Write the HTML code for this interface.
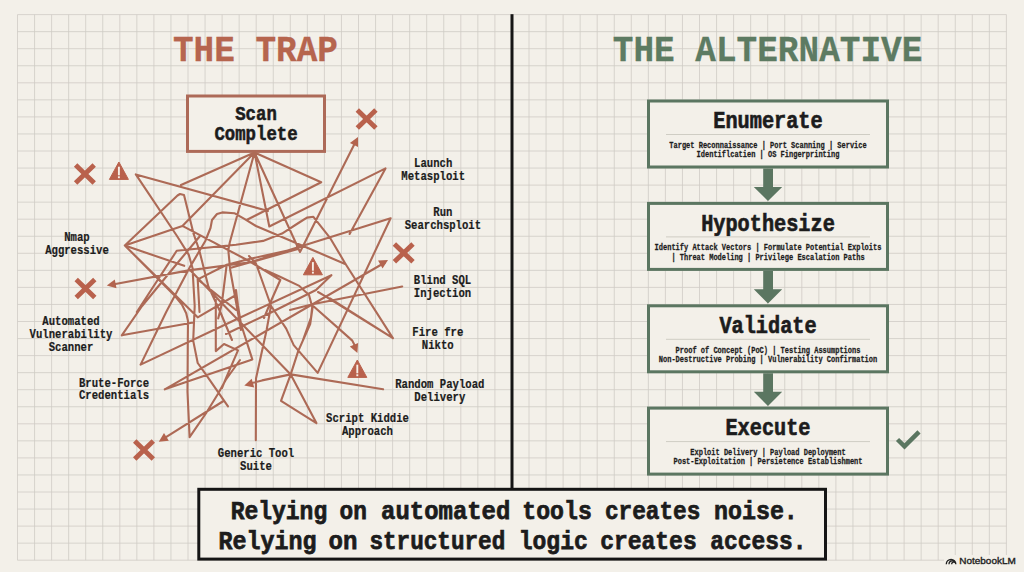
<!DOCTYPE html>
<html><head><meta charset="utf-8"><style>
html,body{margin:0;padding:0;background:#f3f0e9;}
body{width:1024px;height:572px;overflow:hidden;}
svg{display:block;}
</style></head><body>
<svg width="1024" height="572" viewBox="0 0 1024 572">
<rect width="1024" height="572" fill="#f3f0e9"/>
<path d="M17.50 14.60V560.20M34.55 14.60V560.20M51.60 14.60V560.20M68.65 14.60V560.20M85.70 14.60V560.20M102.75 14.60V560.20M119.80 14.60V560.20M136.85 14.60V560.20M153.90 14.60V560.20M170.95 14.60V560.20M188.00 14.60V560.20M205.05 14.60V560.20M222.10 14.60V560.20M239.15 14.60V560.20M256.20 14.60V560.20M273.25 14.60V560.20M290.30 14.60V560.20M307.35 14.60V560.20M324.40 14.60V560.20M341.45 14.60V560.20M358.50 14.60V560.20M375.55 14.60V560.20M392.60 14.60V560.20M409.65 14.60V560.20M426.70 14.60V560.20M443.75 14.60V560.20M460.80 14.60V560.20M477.85 14.60V560.20M494.90 14.60V560.20M511.95 14.60V560.20M529.00 14.60V560.20M546.05 14.60V560.20M563.10 14.60V560.20M580.15 14.60V560.20M597.20 14.60V560.20M614.25 14.60V560.20M631.30 14.60V560.20M648.35 14.60V560.20M665.40 14.60V560.20M682.45 14.60V560.20M699.50 14.60V560.20M716.55 14.60V560.20M733.60 14.60V560.20M750.65 14.60V560.20M767.70 14.60V560.20M784.75 14.60V560.20M801.80 14.60V560.20M818.85 14.60V560.20M835.90 14.60V560.20M852.95 14.60V560.20M870.00 14.60V560.20M887.05 14.60V560.20M904.10 14.60V560.20M921.15 14.60V560.20M938.20 14.60V560.20M955.25 14.60V560.20M972.30 14.60V560.20M989.35 14.60V560.20M1006.40 14.60V560.20M17.50 14.60H1006.40M17.50 31.65H1006.40M17.50 48.70H1006.40M17.50 65.75H1006.40M17.50 82.80H1006.40M17.50 99.85H1006.40M17.50 116.90H1006.40M17.50 133.95H1006.40M17.50 151.00H1006.40M17.50 168.05H1006.40M17.50 185.10H1006.40M17.50 202.15H1006.40M17.50 219.20H1006.40M17.50 236.25H1006.40M17.50 253.30H1006.40M17.50 270.35H1006.40M17.50 287.40H1006.40M17.50 304.45H1006.40M17.50 321.50H1006.40M17.50 338.55H1006.40M17.50 355.60H1006.40M17.50 372.65H1006.40M17.50 389.70H1006.40M17.50 406.75H1006.40M17.50 423.80H1006.40M17.50 440.85H1006.40M17.50 457.90H1006.40M17.50 474.95H1006.40M17.50 492.00H1006.40M17.50 509.05H1006.40M17.50 526.10H1006.40M17.50 543.15H1006.40M17.50 560.20H1006.40" stroke="#cfccc5" stroke-width="0.8" fill="none"/>
<rect x="510.5" y="14.2" width="3" height="474" fill="#151515"/>
<text x="173" y="61" font-family="Liberation Mono" font-weight="bold" font-size="37.5" fill="#b6654e" text-anchor="start" textLength="165" lengthAdjust="spacingAndGlyphs" stroke="#b6654e" stroke-width="0.3">THE TRAP</text>
<text x="612.8" y="61" font-family="Liberation Mono" font-weight="bold" font-size="37.5" fill="#5d7b62" text-anchor="start" textLength="309.5" lengthAdjust="spacingAndGlyphs" stroke="#5d7b62" stroke-width="0.3">THE ALTERNATIVE</text>
<rect x="648.5" y="101.0" width="239" height="66" fill="#f3f0e9" stroke="#5b7661" stroke-width="3"/>
<text x="768" y="128.3" font-family="Liberation Mono" font-weight="bold" font-size="24" fill="#1c1c1c" text-anchor="middle" textLength="109.35000000000001" lengthAdjust="spacingAndGlyphs" stroke="#1c1c1c" stroke-width="0.67">Enumerate</text>
<path d="M666 134.5H870" stroke="#cfcdc4" stroke-width="1"/>
<text x="768" y="147.8" font-family="Liberation Mono" font-weight="bold" font-size="9.9" fill="#1c1c1c" text-anchor="middle" textLength="197.4" lengthAdjust="spacingAndGlyphs" stroke="#1c1c1c" stroke-width="0.28">Target Reconnaissance | Port Scanning | Service</text>
<text x="768" y="157.10000000000002" font-family="Liberation Mono" font-weight="bold" font-size="9.9" fill="#1c1c1c" text-anchor="middle" textLength="142.8" lengthAdjust="spacingAndGlyphs" stroke="#1c1c1c" stroke-width="0.28">Identiflcatien | OS Fingerprinting</text>
<path d="M763.2 168.5H773V186.9H782.2L768 201.1L753.8 186.9H763.2Z" fill="#5b7661"/>
<rect x="648.5" y="203.4" width="239" height="66" fill="#f3f0e9" stroke="#5b7661" stroke-width="3"/>
<text x="768" y="230.70000000000002" font-family="Liberation Mono" font-weight="bold" font-size="24" fill="#1c1c1c" text-anchor="middle" textLength="133.65" lengthAdjust="spacingAndGlyphs" stroke="#1c1c1c" stroke-width="0.67">Hypothesize</text>
<path d="M666 236.9H870" stroke="#cfcdc4" stroke-width="1"/>
<text x="768" y="250.2" font-family="Liberation Mono" font-weight="bold" font-size="9.9" fill="#1c1c1c" text-anchor="middle" textLength="226.8" lengthAdjust="spacingAndGlyphs" stroke="#1c1c1c" stroke-width="0.28">Identify Attack Vectors | Formulate Potential Exploits</text>
<text x="768" y="259.5" font-family="Liberation Mono" font-weight="bold" font-size="9.9" fill="#1c1c1c" text-anchor="middle" textLength="193.20000000000002" lengthAdjust="spacingAndGlyphs" stroke="#1c1c1c" stroke-width="0.28">| Threat Modeling | Privilege Escalation Paths</text>
<path d="M763.2 270.9H773V289.3H782.2L768 303.5L753.8 289.3H763.2Z" fill="#5b7661"/>
<rect x="648.5" y="305.8" width="239" height="66" fill="#f3f0e9" stroke="#5b7661" stroke-width="3"/>
<text x="768" y="333.1" font-family="Liberation Mono" font-weight="bold" font-size="24" fill="#1c1c1c" text-anchor="middle" textLength="97.2" lengthAdjust="spacingAndGlyphs" stroke="#1c1c1c" stroke-width="0.67">Validate</text>
<path d="M666 339.3H870" stroke="#cfcdc4" stroke-width="1"/>
<text x="768" y="352.6" font-family="Liberation Mono" font-weight="bold" font-size="9.9" fill="#1c1c1c" text-anchor="middle" textLength="184.8" lengthAdjust="spacingAndGlyphs" stroke="#1c1c1c" stroke-width="0.28">Proof of Concept (PoC) | Testing Assumptions</text>
<text x="768" y="361.90000000000003" font-family="Liberation Mono" font-weight="bold" font-size="9.9" fill="#1c1c1c" text-anchor="middle" textLength="218.4" lengthAdjust="spacingAndGlyphs" stroke="#1c1c1c" stroke-width="0.28">Non-Destructive Probing | Vulnerability Confirmation</text>
<path d="M763.2 373.3H773V391.7H782.2L768 405.9L753.8 391.7H763.2Z" fill="#5b7661"/>
<rect x="648.5" y="408.1" width="239" height="66" fill="#f3f0e9" stroke="#5b7661" stroke-width="3"/>
<text x="768" y="435.40000000000003" font-family="Liberation Mono" font-weight="bold" font-size="24" fill="#1c1c1c" text-anchor="middle" textLength="85.05" lengthAdjust="spacingAndGlyphs" stroke="#1c1c1c" stroke-width="0.67">Execute</text>
<path d="M666 441.6H870" stroke="#cfcdc4" stroke-width="1"/>
<text x="768" y="454.90000000000003" font-family="Liberation Mono" font-weight="bold" font-size="9.9" fill="#1c1c1c" text-anchor="middle" textLength="155.4" lengthAdjust="spacingAndGlyphs" stroke="#1c1c1c" stroke-width="0.28">Exploit Delivery | Payload Deployment</text>
<text x="768" y="464.20000000000005" font-family="Liberation Mono" font-weight="bold" font-size="9.9" fill="#1c1c1c" text-anchor="middle" textLength="189.0" lengthAdjust="spacingAndGlyphs" stroke="#1c1c1c" stroke-width="0.28">Post-Exploitation | Persietence Establishment</text>
<path d="M897.5 439.5L904.5 446.3L919 431.8" stroke="#5b7661" stroke-width="4.5" fill="none"/>
<rect x="198.8" y="489.3" width="626.7" height="69.8" fill="#f3f0e9" stroke="#151515" stroke-width="3"/>
<text x="230.67" y="518.7" font-family="Liberation Mono" font-weight="bold" font-size="26.7" fill="#1c1c1c" text-anchor="start" textLength="96.53" lengthAdjust="spacingAndGlyphs" stroke="#1c1c1c" stroke-width="0.75">Relying</text>
<text x="339.47" y="518.7" font-family="Liberation Mono" font-weight="bold" font-size="26.7" fill="#1c1c1c" text-anchor="start" textLength="27.36" lengthAdjust="spacingAndGlyphs" stroke="#1c1c1c" stroke-width="0.75">on</text>
<text x="381.08" y="518.7" font-family="Liberation Mono" font-weight="bold" font-size="26.7" fill="#1c1c1c" text-anchor="start" textLength="129.24" lengthAdjust="spacingAndGlyphs" stroke="#1c1c1c" stroke-width="0.75">automated</text>
<text x="522.27" y="518.7" font-family="Liberation Mono" font-weight="bold" font-size="26.7" fill="#1c1c1c" text-anchor="start" textLength="69.53" lengthAdjust="spacingAndGlyphs" stroke="#1c1c1c" stroke-width="0.75">tools</text>
<text x="604.89" y="518.7" font-family="Liberation Mono" font-weight="bold" font-size="26.7" fill="#1c1c1c" text-anchor="start" textLength="95.51" lengthAdjust="spacingAndGlyphs" stroke="#1c1c1c" stroke-width="0.75">creates</text>
<text x="714.0" y="518.7" font-family="Liberation Mono" font-weight="bold" font-size="26.7" fill="#1c1c1c" text-anchor="start" textLength="83.85" lengthAdjust="spacingAndGlyphs" stroke="#1c1c1c" stroke-width="0.75">noise.</text>
<text x="218.57" y="548.6" font-family="Liberation Mono" font-weight="bold" font-size="26.7" fill="#1c1c1c" text-anchor="start" textLength="97.96" lengthAdjust="spacingAndGlyphs" stroke="#1c1c1c" stroke-width="0.75">Relying</text>
<text x="328.45" y="548.6" font-family="Liberation Mono" font-weight="bold" font-size="26.7" fill="#1c1c1c" text-anchor="start" textLength="28.95" lengthAdjust="spacingAndGlyphs" stroke="#1c1c1c" stroke-width="0.75">on</text>
<text x="369.38" y="548.6" font-family="Liberation Mono" font-weight="bold" font-size="26.7" fill="#1c1c1c" text-anchor="start" textLength="135.84" lengthAdjust="spacingAndGlyphs" stroke="#1c1c1c" stroke-width="0.75">structured</text>
<text x="518.73" y="548.6" font-family="Liberation Mono" font-weight="bold" font-size="26.7" fill="#1c1c1c" text-anchor="start" textLength="69.11" lengthAdjust="spacingAndGlyphs" stroke="#1c1c1c" stroke-width="0.75">logic</text>
<text x="600.18" y="548.6" font-family="Liberation Mono" font-weight="bold" font-size="26.7" fill="#1c1c1c" text-anchor="start" textLength="96.53" lengthAdjust="spacingAndGlyphs" stroke="#1c1c1c" stroke-width="0.75">creates</text>
<text x="710.32" y="548.6" font-family="Liberation Mono" font-weight="bold" font-size="26.7" fill="#1c1c1c" text-anchor="start" textLength="96.15" lengthAdjust="spacingAndGlyphs" stroke="#1c1c1c" stroke-width="0.75">access.</text>
<rect x="944" y="555" width="80" height="17" fill="#f3f0e9"/>
<text x="959.2" y="564.2" font-family="Liberation Sans" font-weight="normal" font-size="9.4" fill="#222" text-anchor="start" textLength="56.6" lengthAdjust="spacingAndGlyphs" stroke="#222" stroke-width="0.35">NotebookLM</text>
<path d="M946.3 564.2A4.75 4.75 0 0 1 955.8 564.2M949 564.2A3.4 3.4 0 0 1 955.8 564.2M951.7 564.2A2.05 2.05 0 0 1 955.8 564.2" stroke="#222" stroke-width="1.35" fill="none"/>
<rect x="187.5" y="96" width="137" height="55.4" fill="#f3f0e9" stroke="#ad6a58" stroke-width="3"/>
<text x="256" y="119.5" font-family="Liberation Mono" font-weight="bold" font-size="20.8" fill="#1c1c1c" text-anchor="middle" textLength="41.6" lengthAdjust="spacingAndGlyphs" stroke="#1c1c1c" stroke-width="0.58">Scan</text>
<text x="256" y="139.8" font-family="Liberation Mono" font-weight="bold" font-size="20.8" fill="#1c1c1c" text-anchor="middle" textLength="83.2" lengthAdjust="spacingAndGlyphs" stroke="#1c1c1c" stroke-width="0.58">Complete</text>
<text x="77" y="241.4" font-family="Liberation Mono" font-weight="bold" font-size="12.5" fill="#1c1c1c" text-anchor="middle" textLength="25.5" lengthAdjust="spacingAndGlyphs" stroke="#1c1c1c" stroke-width="0.2">Nmap</text>
<text x="77" y="254.3" font-family="Liberation Mono" font-weight="bold" font-size="12.5" fill="#1c1c1c" text-anchor="middle" textLength="63.7" lengthAdjust="spacingAndGlyphs" stroke="#1c1c1c" stroke-width="0.2">Aggressive</text>
<text x="71" y="324.7" font-family="Liberation Mono" font-weight="bold" font-size="12.5" fill="#1c1c1c" text-anchor="middle" textLength="57.3" lengthAdjust="spacingAndGlyphs" stroke="#1c1c1c" stroke-width="0.2">Automated</text>
<text x="71" y="337.6" font-family="Liberation Mono" font-weight="bold" font-size="12.5" fill="#1c1c1c" text-anchor="middle" textLength="82.8" lengthAdjust="spacingAndGlyphs" stroke="#1c1c1c" stroke-width="0.2">Vulnerability</text>
<text x="71" y="350.5" font-family="Liberation Mono" font-weight="bold" font-size="12.5" fill="#1c1c1c" text-anchor="middle" textLength="44.6" lengthAdjust="spacingAndGlyphs" stroke="#1c1c1c" stroke-width="0.2">Scanner</text>
<text x="114" y="386.5" font-family="Liberation Mono" font-weight="bold" font-size="12.5" fill="#1c1c1c" text-anchor="middle" textLength="70.1" lengthAdjust="spacingAndGlyphs" stroke="#1c1c1c" stroke-width="0.2">Brute-Force</text>
<text x="114" y="399.4" font-family="Liberation Mono" font-weight="bold" font-size="12.5" fill="#1c1c1c" text-anchor="middle" textLength="70.1" lengthAdjust="spacingAndGlyphs" stroke="#1c1c1c" stroke-width="0.2">Credentials</text>
<text x="256" y="456.7" font-family="Liberation Mono" font-weight="bold" font-size="12.5" fill="#1c1c1c" text-anchor="middle" textLength="76.4" lengthAdjust="spacingAndGlyphs" stroke="#1c1c1c" stroke-width="0.2">Generic Tool</text>
<text x="256" y="469.6" font-family="Liberation Mono" font-weight="bold" font-size="12.5" fill="#1c1c1c" text-anchor="middle" textLength="31.9" lengthAdjust="spacingAndGlyphs" stroke="#1c1c1c" stroke-width="0.2">Suite</text>
<text x="367.5" y="422.3" font-family="Liberation Mono" font-weight="bold" font-size="12.5" fill="#1c1c1c" text-anchor="middle" textLength="82.8" lengthAdjust="spacingAndGlyphs" stroke="#1c1c1c" stroke-width="0.2">Script Kiddie</text>
<text x="367.5" y="435.2" font-family="Liberation Mono" font-weight="bold" font-size="12.5" fill="#1c1c1c" text-anchor="middle" textLength="51.0" lengthAdjust="spacingAndGlyphs" stroke="#1c1c1c" stroke-width="0.2">Approach</text>
<text x="433.2" y="167.1" font-family="Liberation Mono" font-weight="bold" font-size="12.5" fill="#1c1c1c" text-anchor="middle" textLength="38.2" lengthAdjust="spacingAndGlyphs" stroke="#1c1c1c" stroke-width="0.2">Launch</text>
<text x="433.2" y="180.0" font-family="Liberation Mono" font-weight="bold" font-size="12.5" fill="#1c1c1c" text-anchor="middle" textLength="63.7" lengthAdjust="spacingAndGlyphs" stroke="#1c1c1c" stroke-width="0.2">Metasploit</text>
<text x="442.9" y="216.3" font-family="Liberation Mono" font-weight="bold" font-size="12.5" fill="#1c1c1c" text-anchor="middle" textLength="19.1" lengthAdjust="spacingAndGlyphs" stroke="#1c1c1c" stroke-width="0.2">Run</text>
<text x="442.9" y="229.2" font-family="Liberation Mono" font-weight="bold" font-size="12.5" fill="#1c1c1c" text-anchor="middle" textLength="76.4" lengthAdjust="spacingAndGlyphs" stroke="#1c1c1c" stroke-width="0.2">Searchsploit</text>
<text x="442.5" y="284.0" font-family="Liberation Mono" font-weight="bold" font-size="12.5" fill="#1c1c1c" text-anchor="middle" textLength="57.3" lengthAdjust="spacingAndGlyphs" stroke="#1c1c1c" stroke-width="0.2">Blind SQL</text>
<text x="442.5" y="296.9" font-family="Liberation Mono" font-weight="bold" font-size="12.5" fill="#1c1c1c" text-anchor="middle" textLength="57.3" lengthAdjust="spacingAndGlyphs" stroke="#1c1c1c" stroke-width="0.2">Injection</text>
<text x="437.8" y="336.1" font-family="Liberation Mono" font-weight="bold" font-size="12.5" fill="#1c1c1c" text-anchor="middle" textLength="51.0" lengthAdjust="spacingAndGlyphs" stroke="#1c1c1c" stroke-width="0.2">Fire fre</text>
<text x="437.8" y="349.0" font-family="Liberation Mono" font-weight="bold" font-size="12.5" fill="#1c1c1c" text-anchor="middle" textLength="31.9" lengthAdjust="spacingAndGlyphs" stroke="#1c1c1c" stroke-width="0.2">Nikto</text>
<text x="439.8" y="387.9" font-family="Liberation Mono" font-weight="bold" font-size="12.5" fill="#1c1c1c" text-anchor="middle" textLength="89.2" lengthAdjust="spacingAndGlyphs" stroke="#1c1c1c" stroke-width="0.2">Random Payload</text>
<text x="439.8" y="400.8" font-family="Liberation Mono" font-weight="bold" font-size="12.5" fill="#1c1c1c" text-anchor="middle" textLength="51.0" lengthAdjust="spacingAndGlyphs" stroke="#1c1c1c" stroke-width="0.2">Delivery</text>
<path d="M254.5 152.5L181.0 185.0M254.5 152.5L182.4 225.9L124.8 245.5M254.5 152.5L229.7 242.7L228.3 250.0L230.2 270.0L239.0 318.5L241.0 330.0M254.5 152.5L269.3 226.5L385.5 168.4L349.6 234.0M254.5 152.5L300.0 252.0L356.0 141.0M254.5 152.5L321.2 182.3L246.5 220.0M268.0 211.0L135.8 174.4L177.0 236.0L188.7 254.6L192.5 268.0L194.7 306.0L193.2 340.6L197.7 363.0L205.3 373.7L228.0 406.3M124.8 245.5L177.5 195.5L180.0 194.0L184.0 195.0L193.7 234.2L199.2 250.0L208.3 286.2L220.3 312.0L232.0 340.0M124.8 245.5L184.2 265.8M124.8 245.5L197.7 317.3L236.0 295.0M182.4 225.9L249.0 261.0L280.3 280.0L271.5 300.0L264.0 318.0M140.6 364.6L166.2 312.0L190.2 266.6L205.3 241.0L210.5 228.0L212.0 220.0L217.0 214.0L222.3 212.4L234.3 213.2L244.8 219.2L256.0 226.0L312.5 250.0L345.7 264.2M136.8 312.0L176.7 250.8L236.0 244.8L263.1 240.9L282.0 233.6L300.0 222.0L307.0 217.6L313.4 216.8L330.0 237.8L345.7 264.2L392.9 338.1M298.0 249.0L230.0 268.0M290.0 250.0L251.2 258.6L226.7 264.7L197.7 279.4L199.5 312.0M197.7 279.4L236.0 310.0M226.7 264.7L221.8 303.9L218.2 318.5M390.6 218.3L250.0 262.3L188.7 270.4L110.0 285.0M390.6 218.3L317.7 372.9L293.7 345.1L286.2 328.6L271.1 306.0L256.0 263.5L249.0 256.0M164.8 389.3L385.0 262.5M164.8 389.3L252.3 359.4L241.0 324.0L238.0 306.0L236.0 290.0M121.8 335.3L142.1 306.0L175.0 266.0L200.0 236.0M121.8 335.3L193.2 322.5M140.6 364.6L236.0 319.5L331.4 275.2L316.0 290.0L270.0 313.0L226.0 334.0M402.2 286.5L312.5 304.3L290.0 310.0M318.0 292.0L324.3 295.6L392.9 338.1M312.5 304.3L311.0 317.7L303.0 340.0M215.8 300.0L215.8 351.1L224.0 344.0L238.0 350.4L226.0 378.2L222.0 388.0M223.5 401.0L162.0 439.7M124.8 245.5L174.0 294.9L181.9 304.5L186.2 313.2L188.0 321.0L187.8 340.0L187.5 392.0L189.6 437.1L206.2 413.0L218.2 393.5L225.7 380.0L240.0 360.0M255.8 440.2L256.0 378.5L266.6 330.0L271.0 306.0M290.7 374.4L262.1 380.4L250.0 383.5M290.7 374.4L383.1 389.3M290.7 374.4L226.0 307.5L190.0 270.0M290.7 374.4L298.2 351.1L310.2 324.0L312.5 308.0L309.0 295.0L299.3 285.9L280.0 276.8L265.0 270.0M290.7 374.4L281.0 400.8L316.4 423.1L290.7 374.4M313.2 306.0L338.8 328.6L352.3 340.6L356.0 348.0M330.0 298.4L392.9 338.1" stroke="#ad6a56" stroke-width="2.1" fill="none" stroke-linejoin="round" stroke-linecap="round"/>
<path d="M358.0 137.0L358.0 147.1L349.9 143.0Z" fill="#b3644e"/>
<path d="M106.8 285.4L114.8 279.4L116.5 288.2Z" fill="#b3644e"/>
<path d="M388.0 260.0L382.5 268.4L378.0 260.6Z" fill="#b3644e"/>
<path d="M158.8 441.7L164.0 433.1L168.8 440.7Z" fill="#b3644e"/>
<path d="M244.3 385.6L251.7 378.8L254.2 387.4Z" fill="#b3644e"/>
<path d="M357.4 353.0L349.8 346.4L358.1 343.0Z" fill="#b3644e"/>
<path d="M75.6 165.1L94.2 182.9M94.2 165.1L75.6 182.9" stroke="#b9614c" stroke-width="4.9"/>
<path d="M357.3 110.1L375.9 127.9M375.9 110.1L357.3 127.9" stroke="#b9614c" stroke-width="4.9"/>
<path d="M394.4 244.0L413.0 261.8M413.0 244.0L394.4 261.8" stroke="#b9614c" stroke-width="4.9"/>
<path d="M76.2 279.6L94.8 297.4M94.8 279.6L76.2 297.4" stroke="#b9614c" stroke-width="4.9"/>
<path d="M134.7 441.1L153.3 458.9M153.3 441.1L134.7 458.9" stroke="#b9614c" stroke-width="4.9"/>
<path d="M118.9 162.0L128.4 179.4H109.4Z" fill="#b9614c" stroke="#b9614c" stroke-width="1" stroke-linejoin="round"/>
<rect x="117.95" y="166.7" width="1.9" height="8.6" fill="#f6efe8"/><rect x="117.95" y="176.3" width="1.9" height="1.9" fill="#f6efe8"/>
<path d="M312.9 257.4L322.4 274.8H303.4Z" fill="#b9614c" stroke="#b9614c" stroke-width="1" stroke-linejoin="round"/>
<rect x="311.95" y="262.1" width="1.9" height="8.6" fill="#f6efe8"/><rect x="311.95" y="271.7" width="1.9" height="1.9" fill="#f6efe8"/>
<path d="M357.3 360.0L366.8 377.4H347.8Z" fill="#b9614c" stroke="#b9614c" stroke-width="1" stroke-linejoin="round"/>
<rect x="356.35" y="364.7" width="1.9" height="8.6" fill="#f6efe8"/><rect x="356.35" y="374.3" width="1.9" height="1.9" fill="#f6efe8"/>
</svg>
</body></html>
